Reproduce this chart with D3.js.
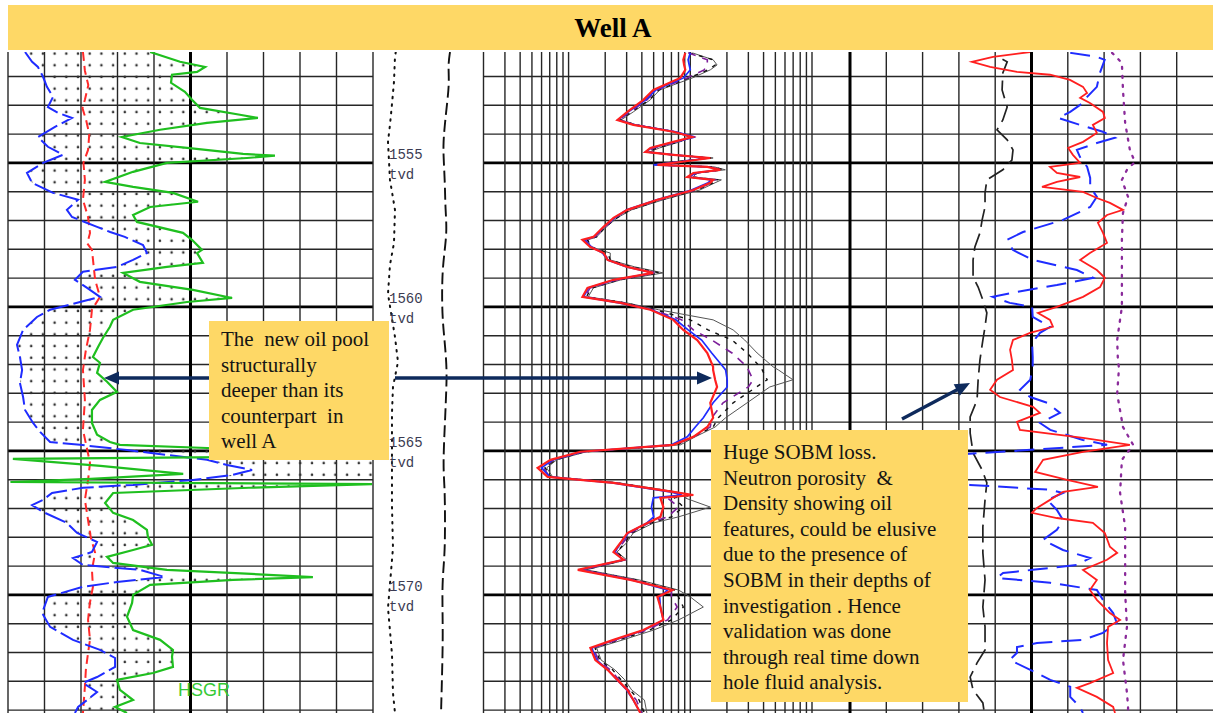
<!DOCTYPE html>
<html>
<head>
<meta charset="utf-8">
<script src="https://cdn.jsdelivr.net/npm/d3@7"></script>
<style>
  html, body { margin: 0; padding: 0; background: #fff; }
  svg { display: block; }
  .pre { white-space: pre; }
</style>
</head>
<body>
<svg id="chart" width="1213" height="713"></svg>
<script>
// ---------------- log data (depth in m TVD) ----------------
const depthRange = [1551.15, 1574.10];
const depthLabels = [1555, 1560, 1565, 1570];

// Track 1 : spectral gamma ray, API (0-150, wraps past 150)
const hsgr = [[1551.15,58.4],[1551.49,70.7],[1551.67,81.0],[1551.84,77.7],[1551.94,67.4],[1552.22,67.0],[1552.53,72.7],[1552.81,75.6],[1553.09,78.9],[1553.33,95.3],[1553.44,102.7],[1553.61,81.8],[1553.85,62.5],[1554.10,46.8],[1554.31,54.2],[1554.48,73.6],[1554.69,96.6],[1554.75,109.7],[1554.83,98.2],[1555.00,65.3],[1555.31,51.4],[1555.66,39.9],[1555.83,51.4],[1556.04,67.8],[1556.35,78.1],[1556.53,58.4],[1556.81,51.4],[1557.05,53.0],[1557.43,71.9],[1557.67,75.6],[1558.02,79.7],[1558.13,77.7],[1558.47,80.1],[1558.61,65.3],[1558.82,47.3],[1559.13,54.2],[1559.41,76.0],[1559.69,92.1],[1559.83,73.6],[1560.10,51.4],[1560.45,43.2],[1560.69,41.9],[1561.08,39.0],[1561.39,37.0],[1561.74,34.9],[1561.94,37.8],[1562.29,36.6],[1562.60,40.7],[1562.95,44.8],[1563.23,37.8],[1563.58,34.5],[1564.03,34.5],[1564.44,36.6],[1564.69,41.9],[1564.79,46.0],[1564.90,81.8],[1565.03,120.0],[1565.17,149.0],[1565.28,152.0],[1565.52,188.0],[1565.80,222.0],[1565.97,184.0],[1566.08,151.0],[1566.15,149.6],[1566.28,99.0],[1566.46,43.2],[1566.81,39.9],[1567.15,43.2],[1567.40,51.4],[1567.74,57.1],[1567.99,57.5],[1568.26,59.2],[1568.44,51.4],[1568.68,40.7],[1568.89,43.2],[1569.13,65.3],[1569.27,100.0],[1569.38,125.3],[1569.48,92.5],[1569.65,58.4],[1570.00,51.4],[1570.28,51.0],[1570.76,48.9],[1571.22,51.4],[1571.56,62.5],[1571.91,67.8],[1572.15,67.4],[1572.50,67.8],[1572.71,59.6],[1572.95,44.8],[1573.30,46.0],[1573.65,51.4],[1573.89,44.0],[1574.10,48.9]];
const hcgr = [[1551.15,7.0],[1551.49,9.9],[1551.67,12.3],[1552.01,14.4],[1552.36,16.0],[1552.71,18.5],[1553.06,16.4],[1553.26,20.5],[1553.44,26.3],[1553.75,19.3],[1554.10,12.3],[1554.44,16.4],[1554.72,22.6],[1555.00,14.4],[1555.35,7.8],[1555.69,9.9],[1556.04,18.5],[1556.28,28.8],[1556.63,24.2],[1556.88,26.3],[1557.22,36.6],[1557.40,42.0],[1557.57,48.0],[1557.85,55.5],[1558.13,57.1],[1558.37,51.4],[1558.61,44.8],[1558.78,30.8],[1559.06,27.5],[1559.34,32.5],[1559.65,37.8],[1559.83,29.6],[1560.10,17.3],[1560.35,11.9],[1560.80,6.2],[1561.32,3.7],[1561.74,4.9],[1562.19,5.8],[1562.64,4.9],[1563.13,6.2],[1563.58,7.0],[1564.03,10.3],[1564.34,13.2],[1564.69,17.3],[1564.79,29.6],[1564.97,48.9],[1565.14,65.3],[1565.31,81.8],[1565.49,90.0],[1565.66,100.3],[1565.83,92.5],[1566.01,76.0],[1566.18,51.4],[1566.28,30.8],[1566.46,18.1],[1566.70,14.4],[1566.88,9.9],[1567.12,14.4],[1567.50,24.2],[1567.85,28.4],[1568.16,36.6],[1568.51,34.5],[1568.72,26.7],[1568.96,30.8],[1569.13,54.2],[1569.38,64.5],[1569.55,44.8],[1569.72,30.8],[1570.07,16.4],[1570.63,14.0],[1571.11,17.3],[1571.56,26.7],[1571.91,37.8],[1572.19,44.0],[1572.50,44.0],[1572.85,36.6],[1573.06,30.8],[1573.37,36.6],[1573.65,32.5],[1573.89,28.8],[1574.10,27.5]];
const hthoTrace = [[1551.15,30.8],[1551.80,31.6],[1552.30,33.0],[1552.81,31.6],[1553.10,30.6],[1553.51,32.1],[1554.00,33.4],[1554.55,32.9],[1555.00,31.0],[1555.59,31.6],[1556.28,30.8],[1556.88,32.9],[1557.43,33.7],[1557.80,32.6],[1558.02,34.5],[1559.06,35.8],[1559.65,37.8],[1560.10,34.5],[1560.80,33.7],[1561.50,32.0],[1562.19,30.8],[1563.23,31.6],[1564.27,30.8],[1564.90,32.4],[1565.42,33.7],[1566.01,32.9],[1566.70,31.6],[1567.40,32.9],[1568.00,34.0],[1568.54,35.8],[1569.13,34.5],[1569.72,34.9],[1570.30,33.6],[1570.87,32.9],[1571.56,33.7],[1572.01,32.9],[1572.60,32.0],[1573.19,31.6],[1574.10,30.8]];

// Depth track : two auxiliary traces (relative units 0-100)
const depthTrackDotted = [[1551.15,20.5],[1551.32,19.8],[1552.19,18.9],[1553.00,17.0],[1553.68,15.3],[1554.27,13.5],[1555.59,15.3],[1556.63,19.8],[1557.78,18.9],[1558.54,15.3],[1559.55,13.5],[1561.04,19.8],[1561.91,22.5],[1562.78,18.0],[1563.68,17.1],[1565.45,17.1],[1566.91,17.1],[1568.37,18.0],[1570.45,13.5],[1572.05,17.1],[1573.40,18.0],[1574.10,19.8]];
const depthTrackDashed = [[1551.15,69.4],[1551.60,67.6],[1552.20,68.8],[1552.95,66.7],[1553.70,64.6],[1554.41,63.1],[1555.10,64.0],[1555.87,64.9],[1556.60,65.2],[1557.36,66.7],[1558.20,64.0],[1558.96,62.2],[1560.28,62.2],[1561.20,64.6],[1562.19,66.7],[1563.10,65.8],[1563.96,64.9],[1565.45,63.1],[1566.20,64.4],[1566.91,64.9],[1568.37,64.9],[1569.10,63.4],[1569.86,62.2],[1571.32,63.1],[1572.81,62.2],[1574.10,61.3]];

// Track 3 : resistivity array, ohm.m (log 0.2-100)
const resDepth = [1551.18,1551.42,1551.60,1551.77,1552.05,1552.47,1552.81,1553.23,1553.51,1553.68,1553.92,1554.10,1554.27,1554.48,1554.62,1554.72,1554.83,1554.97,1555.07,1555.14,1555.24,1555.35,1555.49,1555.59,1555.69,1555.94,1556.28,1556.63,1556.91,1557.22,1557.57,1557.67,1557.92,1558.13,1558.37,1558.61,1558.82,1559.06,1559.34,1559.65,1559.86,1560.10,1560.45,1560.80,1561.15,1561.60,1562.08,1562.19,1562.53,1562.78,1563.33,1563.85,1564.17,1564.51,1564.79,1565.03,1565.31,1565.59,1565.90,1566.11,1566.42,1566.53,1566.63,1566.95,1567.29,1567.50,1567.85,1568.19,1568.51,1568.78,1569.13,1569.48,1569.83,1570.07,1570.42,1570.87,1571.22,1571.56,1571.84,1572.26,1572.60,1572.95,1573.30,1573.65,1574.10];
const resDeep = [9.10,8.76,8.9,9.10,8.28,4.97,4.12,3.04,2.52,3.41,7.26,10.4,7.26,4.70,4.28,7.26,14.6,8.28,5.37,13.8,17.6,10.6,9.45,15.4,14.6,10.6,5.37,3.04,2.34,1.94,1.60,1.30,1.51,1.94,2.09,3.04,4.97,2.34,1.43,1.30,2.67,4.70,7.26,8.76,11.4,13.8,15.4,15.4,16.0,16.6,14.6,15.4,13.8,10.6,7.26,1.25,0.711,0.557,0.673,2.34,7.26,10.6,5.68,6.01,5.68,4.44,3.04,2.67,2.34,2.83,1.19,3.22,7.12,5.37,5.68,6.01,4.12,2.34,1.51,1.66,2.09,2.52,3.04,3.41,3.89];
const resMedium = [10.0,9.6,9.8,10.0,8.8,5.2,4.3,3.1,2.55,3.5,7.6,11.0,7.5,4.8,4.3,7.4,14.0,8.0,5.0,14.2,17.0,11.0,9.8,15.0,14.0,10.2,5.3,3.0,2.4,1.95,1.62,1.35,1.55,1.9,2.1,3.0,5.0,2.4,1.45,1.33,2.6,4.8,7.6,9.6,12.4,15.0,18.6,19.5,20.1,20.1,15.4,12.8,11.0,9.45,7.0,1.3,0.74,0.6,0.7,2.3,6.8,8.5,4.97,4.8,5.0,4.4,3.1,2.7,2.4,2.8,1.25,3.3,6.5,5.6,5.68,6.0,4.2,2.4,1.55,1.7,2.1,2.5,3.0,3.4,3.9];
const resShallow = [9.6,13.8,13.8,13.0,9.4,5.3,4.4,3.2,2.6,3.5,7.4,10.2,7.8,5.0,4.4,7.0,13.8,7.5,5.3,14.6,18.0,11.2,10.0,16.0,15.0,11.0,5.6,3.1,2.4,2.0,1.65,1.38,1.5,2.0,2.1,3.1,5.2,2.5,1.5,1.36,2.8,4.9,8.5,10.6,15.0,22.0,29.3,30.0,32.8,30.0,18.6,15.0,14.6,10.6,7.5,1.3,0.75,0.62,0.7,2.4,7.0,9.0,6.5,8.0,6.5,4.6,3.2,2.8,2.4,2.9,1.3,3.4,7.0,7.0,7.8,6.5,4.4,2.5,1.6,1.75,2.2,2.6,3.1,3.6,4.0];
const resMicro = [9.8,15.4,16.0,14.0,9.8,5.5,4.6,3.3,2.65,3.6,7.5,10.0,8.0,5.3,4.5,7.2,14.8,7.2,5.2,15.4,18.6,11.4,10.4,17.0,15.4,11.4,5.8,3.2,2.5,2.0,1.7,1.42,1.55,2.1,2.2,3.3,5.6,2.6,1.55,1.4,2.9,5.2,10.0,14.0,22.0,29.3,37.5,39.0,42.8,35.0,22.5,17.0,15.4,10.5,7.8,1.35,0.78,0.64,0.72,2.5,7.3,9.5,7.4,8.76,7.0,4.8,3.3,2.9,2.5,2.9,1.35,3.6,7.5,8.0,8.76,7.0,4.6,2.6,1.65,1.8,2.3,2.7,3.2,3.8,4.2];
const resFlushed = [10.4,15.4,16.6,14.6,10.4,5.6,4.7,3.4,2.7,3.6,7.6,10.6,8.2,5.6,4.6,7.0,15.4,7.0,5.1,15.8,19.4,11.2,10.6,18.0,16.0,12.0,6.0,3.3,2.5,2.05,1.7,1.45,1.5,2.2,2.2,3.5,6.0,2.7,1.6,1.45,3.0,5.5,15.4,22.5,28.0,35.4,47.9,53.0,69.8,45.0,29.3,19.5,16.0,11.0,8.3,1.4,0.8,0.66,0.74,2.6,7.6,10.0,9.0,14.6,8.0,5.0,3.4,3.0,2.5,3.0,1.4,3.8,8.0,10.0,12.8,8.0,5.0,2.8,1.7,1.85,2.4,2.9,3.3,4.2,4.4];

// Track 4 : density (g/cc), neutron (v/v), photo-electric factor, caliper (in)
const rhob = [[1551.15,2.446],[1551.32,2.344],[1551.49,2.286],[1551.67,2.336],[1551.84,2.410],[1551.94,2.501],[1552.12,2.556],[1552.36,2.592],[1552.57,2.603],[1552.74,2.584],[1552.92,2.611],[1553.23,2.647],[1553.44,2.652],[1553.68,2.619],[1553.96,2.630],[1554.27,2.592],[1554.48,2.551],[1554.72,2.564],[1555.00,2.584],[1555.14,2.501],[1555.35,2.520],[1555.49,2.584],[1555.66,2.520],[1555.83,2.479],[1556.01,2.592],[1556.22,2.630],[1556.39,2.666],[1556.63,2.702],[1556.81,2.658],[1557.08,2.633],[1557.43,2.647],[1557.78,2.658],[1558.13,2.611],[1558.37,2.584],[1558.72,2.630],[1558.99,2.652],[1559.31,2.639],[1559.65,2.592],[1560.00,2.520],[1560.21,2.468],[1560.45,2.501],[1560.69,2.509],[1560.90,2.446],[1561.15,2.399],[1561.49,2.391],[1561.84,2.396],[1562.19,2.399],[1562.53,2.355],[1562.88,2.336],[1563.13,2.363],[1563.47,2.454],[1563.68,2.473],[1563.99,2.410],[1564.27,2.418],[1564.55,2.592],[1564.79,2.721],[1565.03,2.592],[1565.31,2.482],[1565.73,2.460],[1566.01,2.548],[1566.25,2.633],[1566.42,2.537],[1566.70,2.501],[1566.98,2.465],[1567.15,2.451],[1567.33,2.520],[1567.50,2.619],[1567.85,2.652],[1568.33,2.666],[1568.54,2.686],[1568.78,2.658],[1569.13,2.592],[1569.48,2.630],[1569.83,2.611],[1570.17,2.630],[1570.63,2.666],[1570.87,2.694],[1571.11,2.661],[1571.67,2.658],[1572.26,2.661],[1572.71,2.675],[1573.06,2.611],[1573.23,2.575],[1573.54,2.630],[1573.89,2.675],[1574.10,2.680]];
const nphi = [[1551.18,0.086],[1551.32,0.042],[1551.42,0.029],[1551.88,0.037],[1552.36,0.042],[1552.71,0.058],[1552.92,0.065],[1553.23,0.086],[1553.44,0.106],[1553.68,0.070],[1553.92,0.032],[1554.13,0.012],[1554.31,0.042],[1554.55,0.075],[1554.79,0.070],[1555.14,0.058],[1555.52,0.053],[1555.83,0.053],[1556.18,0.042],[1556.53,0.053],[1556.98,0.098],[1557.40,0.164],[1557.67,0.190],[1558.02,0.181],[1558.37,0.148],[1558.72,0.075],[1558.99,0.048],[1559.24,0.108],[1559.48,0.174],[1559.65,0.214],[1559.86,0.186],[1560.00,0.149],[1560.35,0.148],[1560.69,0.119],[1560.90,0.136],[1561.25,0.149],[1561.74,0.148],[1562.08,0.148],[1562.53,0.152],[1562.88,0.169],[1563.13,0.152],[1563.33,0.124],[1563.68,0.103],[1564.03,0.136],[1564.27,0.119],[1564.62,0.065],[1564.79,0.025],[1565.10,0.252],[1565.20,0.330],[1565.80,0.360],[1566.12,0.300],[1566.18,0.252],[1566.35,0.119],[1566.46,0.098],[1566.70,0.124],[1567.05,0.108],[1567.40,0.098],[1567.74,0.108],[1568.09,0.131],[1568.44,0.098],[1568.72,0.053],[1568.96,0.075],[1569.13,0.148],[1569.24,0.197],[1569.41,0.207],[1569.58,0.119],[1569.83,0.042],[1570.17,0.032],[1570.63,0.015],[1570.97,0.009],[1571.32,0.032],[1571.56,0.065],[1571.67,0.141],[1571.81,0.174],[1572.01,0.174],[1572.26,0.186],[1572.60,0.152],[1572.95,0.119],[1573.19,0.086],[1573.54,0.086],[1573.89,0.070],[1574.10,0.065]];
const pef = [[1551.18,7.22],[1551.53,7.49],[1552.47,7.52],[1553.61,7.58],[1554.55,7.71],[1554.97,7.85],[1555.24,7.63],[1555.59,7.49],[1556.18,7.66],[1556.74,7.52],[1557.67,7.49],[1558.82,7.49],[1560.00,7.49],[1561.15,7.36],[1561.84,7.38],[1562.12,7.41],[1563.02,7.36],[1564.17,7.52],[1564.79,7.80],[1565.31,7.49],[1566.46,7.44],[1567.64,7.58],[1568.78,7.58],[1569.93,7.58],[1571.11,7.63],[1572.26,7.52],[1573.40,7.63],[1573.89,7.66],[1574.10,7.66]];
const cali = [[1551.40,10.20],[1551.49,10.33],[1551.88,10.21],[1552.47,10.19],[1553.06,10.33],[1553.51,10.21],[1553.85,10.05],[1554.20,10.33],[1554.55,10.49],[1554.90,10.46],[1555.24,10.21],[1555.59,9.77],[1556.04,9.72],[1556.53,9.72],[1556.98,9.64],[1557.43,9.58],[1557.92,9.44],[1558.37,9.39],[1558.96,9.39],[1559.31,9.53],[1559.76,9.66],[1560.21,9.77],[1560.69,9.72],[1561.15,9.66],[1561.84,9.58],[1562.53,9.53],[1563.23,9.50],[1563.82,9.31],[1564.38,9.31],[1565.07,9.39],[1565.66,9.64],[1566.11,9.77],[1566.70,9.72],[1567.64,9.66],[1568.54,9.66],[1569.48,9.72],[1570.42,9.66],[1571.11,9.72],[1571.91,9.72],[1572.36,9.50],[1572.85,9.31],[1573.30,9.39],[1573.75,9.66],[1574.10,9.70]];

// Annotations
const noteLeft = ["The  new oil pool", "structurally", "deeper than its", "counterpart  in", "well A"];
const noteRight = ["Huge SOBM loss.", "Neutron porosity  &", "Density showing oil", "features, could be elusive", "due to the presence of", "SOBM in their depths of", "investigation . Hence", "validation was done", "through real time down", "hole fluid analysis."];
const titleText = "Well A";

// ---------------- layout ----------------
const svg = d3.select("#chart");
const plotTop = 52, plotBottom = 713;
const T1 = [8, 373], TD = [373, 484], T3 = [483.5, 812], T4 = [850, 1213];

const y = d3.scaleLinear().domain(depthRange).range([plotTop, plotBottom]);
const xGR = d3.scaleLinear().domain([0, 150]).range(T1);
const xAux = d3.scaleLinear().domain([0, 100]).range(TD);
const xRes = d3.scaleLog().domain([0.2, 100]).range(T3);
const xRhob = d3.scaleLinear().domain([1.95, 2.95]).range(T4);
const xNphi = d3.scaleLinear().domain([0.45, -0.15]).range(T4);
const xPef = d3.scaleLinear().domain([0, 10]).range(T4);
const xCali = d3.scaleLinear().domain([6, 16]).range(T4);

const defs = svg.append("defs");
function clip(id, x0, x1) {
  defs.append("clipPath").attr("id", id).append("rect")
    .attr("x", x0).attr("y", plotTop).attr("width", x1 - x0).attr("height", plotBottom - plotTop);
}
clip("c1", T1[0], T1[1]); clip("cd", TD[0], TD[1]); clip("c3", T3[0], T3[1]); clip("c4", T4[0], T4[1]);

const pat = defs.append("pattern").attr("id", "dots").attr("patternUnits", "userSpaceOnUse")
  .attr("x", 2).attr("y", 1).attr("width", 11.7).attr("height", 11.7);
pat.append("circle").attr("cx", 5.8).attr("cy", 5.8).attr("r", 1.3).attr("fill", "#333");

// ---------------- grid ----------------
const grid = svg.append("g").attr("fill", "none");
const gridColor = "#262626";
const depthTicks = d3.range(Math.ceil(depthRange[0]), depthRange[1], 1);
depthTicks.forEach(d => {
  const thick = d % 5 === 0;
  [[T1[0], T1[1]], [T3[0], T4[1]]].forEach(([a, b]) => {
    grid.append("line").attr("x1", a).attr("x2", b).attr("y1", y(d)).attr("y2", y(d))
      .attr("stroke", thick ? "#000" : gridColor).attr("stroke-width", thick ? 2.6 : 1.4);
  });
});
function vline(x, thick) {
  grid.append("line").attr("x1", x).attr("x2", x).attr("y1", plotTop).attr("y2", plotBottom)
    .attr("stroke", thick ? "#000" : gridColor).attr("stroke-width", thick ? 3 : 1.4);
}
d3.range(0, 151, 15).forEach(v => vline(xGR(v), v === 75));
const logLines = [];
[0.1, 1, 10].forEach(dec => d3.range(1, 10).forEach(k => logLines.push(dec * k)));
logLines.push(100);
logLines.filter(v => v >= 0.2 - 1e-9).forEach(v => vline(xRes(v), false));
d3.range(0, 10).forEach(i => vline(xPef(i), i === 0 || i === 5));

// ---------------- track 1 ----------------
function interp(series, d) {
  const i = d3.bisector(p => p[0]).left(series, d);
  if (i <= 0) return series[0][1];
  if (i >= series.length) return series[series.length - 1][1];
  const a = series[i - 1], b = series[i];
  return a[1] + (d - a[0]) / (b[0] - a[0]) * (b[1] - a[1]);
}
const g1 = svg.append("g").attr("clip-path", "url(#c1)");
const fillDepths = d3.range(depthRange[0], depthRange[1] + 0.005, 0.005);
g1.append("path").datum(fillDepths)
  .attr("d", d3.area().y(d => y(d))
    .x0(d => xGR(interp(hcgr, d)))
    .x1(d => xGR(Math.max(interp(hcgr, d), Math.min(interp(hsgr, d), 150)))))
  .attr("fill", "url(#dots)");

const lineOf = (xs, tf) => d3.line().x(p => xs(tf ? tf(p[1]) : p[1])).y(p => y(p[0]));
g1.append("path").datum(hthoTrace).attr("d", lineOf(xGR)).attr("fill", "none")
  .attr("stroke", "#ff2a2a").attr("stroke-width", 2).attr("stroke-dasharray", "9,5");
g1.append("path").datum(hcgr).attr("d", lineOf(xGR)).attr("fill", "none")
  .attr("stroke", "#1f2cff").attr("stroke-width", 2).attr("stroke-dasharray", "22,5");
// values beyond 150 API wrap back onto the track
g1.append("path").datum(hsgr).attr("d", lineOf(xGR, v => v > 150 ? v - 150 : v)).attr("fill", "none")
  .attr("stroke", "#1fbf1f").attr("stroke-width", 2.2);

// ---------------- depth track ----------------
const gd = svg.append("g").attr("clip-path", "url(#cd)");
gd.append("path").datum(depthTrackDotted).attr("d", lineOf(xAux)).attr("fill", "none")
  .attr("stroke", "#111").attr("stroke-width", 2).attr("stroke-linecap", "round").attr("stroke-dasharray", "1.5,6");
gd.append("path").datum(depthTrackDashed).attr("d", lineOf(xAux).curve(d3.curveBasis)).attr("fill", "none")
  .attr("stroke", "#111").attr("stroke-width", 1.9).attr("stroke-dasharray", "12,5");
depthLabels.forEach(d => {
  svg.append("text").attr("x", 389).attr("y", y(d) - 4).text(d)
    .attr("font-family", "Liberation Mono, Courier New, monospace").attr("font-size", 14).attr("fill", "#3b3b52");
  svg.append("text").attr("x", 389).attr("y", y(d) + 16).text("tvd")
    .attr("font-family", "Liberation Mono, Courier New, monospace").attr("font-size", 14).attr("fill", "#3b3b52");
});

// ---------------- track 3 ----------------
const g3 = svg.append("g").attr("clip-path", "url(#c3)");
const col = vals => resDepth.map((d, i) => [d, vals[i]]);
g3.append("path").datum(col(resFlushed)).attr("d", lineOf(xRes)).attr("fill", "none")
  .attr("stroke", "#555").attr("stroke-width", 1);
g3.append("path").datum(col(resMicro)).attr("d", lineOf(xRes)).attr("fill", "none")
  .attr("stroke", "#111").attr("stroke-width", 1.4).attr("stroke-dasharray", "4,6");
g3.append("path").datum(col(resShallow)).attr("d", lineOf(xRes)).attr("fill", "none")
  .attr("stroke", "#7d1f9a").attr("stroke-width", 1.6).attr("stroke-dasharray", "8,7");
g3.append("path").datum(col(resMedium)).attr("d", lineOf(xRes)).attr("fill", "none")
  .attr("stroke", "#1f2cff").attr("stroke-width", 1.7);
g3.append("path").datum(col(resDeep)).attr("d", lineOf(xRes)).attr("fill", "none")
  .attr("stroke", "#ff1f1f").attr("stroke-width", 2.2);

// ---------------- track 4 ----------------
const g4 = svg.append("g").attr("clip-path", "url(#c4)");
g4.append("path").datum(cali).attr("d", lineOf(xCali)).attr("fill", "none")
  .attr("stroke", "#222").attr("stroke-width", 1.7).attr("stroke-dasharray", "18,7");
g4.append("path").datum(pef).attr("d", lineOf(xPef)).attr("fill", "none")
  .attr("stroke", "#8a2a9a").attr("stroke-width", 2.3).attr("stroke-linecap", "round").attr("stroke-dasharray", "2,7");
g4.append("path").datum(nphi).attr("d", lineOf(xNphi)).attr("fill", "none")
  .attr("stroke", "#1f2cff").attr("stroke-width", 2).attr("stroke-dasharray", "20,9");
g4.append("path").datum(rhob).attr("d", lineOf(xRhob)).attr("fill", "none")
  .attr("stroke", "#ff1f1f").attr("stroke-width", 1.8);

svg.append("text").attr("x", 178).attr("y", 696).text("HSGR")
  .attr("font-family", "Liberation Sans, Arial, sans-serif").attr("font-size", 18).attr("fill", "#35c935");

// ---------------- title ----------------
const gold = "#fed866";
svg.append("rect").attr("x", 8).attr("y", 5).attr("width", 1205).attr("height", 45).attr("fill", gold);
svg.append("text").attr("x", 613).attr("y", 37).attr("text-anchor", "middle").text(titleText)
  .attr("font-family", "Liberation Serif, Times New Roman, serif").attr("font-weight", "bold").attr("font-size", 27).attr("fill", "#000");

// ---------------- notes & arrows ----------------
const navy = "#0e2a5c";
function arrow(x1, y1, x2, y2) {
  const a = Math.atan2(y2 - y1, x2 - x1), L = 15, Wd = 6.5;
  const bx = x2 - L * Math.cos(a), by = y2 - L * Math.sin(a);
  svg.append("line").attr("x1", x1).attr("y1", y1).attr("x2", bx + 2 * Math.cos(a)).attr("y2", by + 2 * Math.sin(a))
    .attr("stroke", navy).attr("stroke-width", 3.4);
  const px = -Math.sin(a) * Wd, py = Math.cos(a) * Wd;
  svg.append("path").attr("d", `M${x2},${y2}L${bx + px},${by + py}L${bx - px},${by - py}Z`).attr("fill", navy);
}
function note(x, yTop, w, h, lines, baseline0) {
  svg.append("rect").attr("x", x).attr("y", yTop).attr("width", w).attr("height", h).attr("fill", gold);
  const t = svg.append("text").attr("class", "pre")
    .attr("font-family", "Liberation Serif, Times New Roman, serif").attr("font-size", 21).attr("fill", "#141414");
  lines.forEach((s, i) => t.append("tspan").attr("x", x + 12).attr("y", baseline0 + i * 25.6).text(s));
}
const arrowY = y(1562.47);
note(209, 321, 180, 139, noteLeft, 346);
arrow(209, arrowY, 104, arrowY);
arrow(395, arrowY, 712, arrowY);
note(711, 430, 257, 272, noteRight, 459);
arrow(902, 419, 970, 383);
</script>
</body>
</html>
